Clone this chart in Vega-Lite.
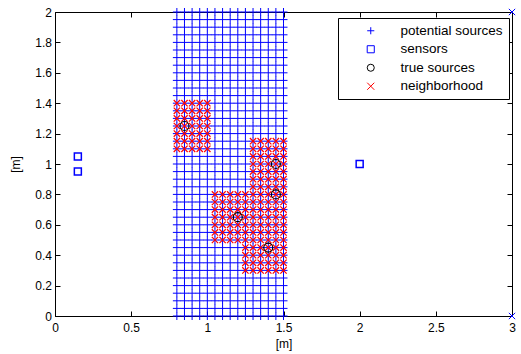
{
"$schema":"https://vega.github.io/schema/vega-lite/v6.json",
"width":457,"height":304,
"autosize":"none",
"padding":{"left":55,"top":12,"right":9,"bottom":38},
"background":"white",
"config":{"view":{"stroke":"black","strokeWidth":1},"font":"Liberation Sans",
"axis":{"labelFont":"Liberation Sans","titleFont":"Liberation Sans","labelFontSize":12,"titleFontSize":12,"titleFontWeight":"normal","labelColor":"black","titleColor":"black","tickColor":"black","domainColor":"black","grid":false},
"legend":{"orient":"none","legendX":283,"legendY":6,"strokeColor":"black","fillColor":"white","padding":6,"labelFont":"Liberation Sans","labelFontSize":13.5,"labelColor":"black","symbolSize":50,"symbolStrokeWidth":1,"rowPadding":3.5,"labelOffset":23,"symbolOffset":20,"titlePadding":0}},
"datasets":{
"pot":[
{"x":0.8,"y":0},{"x":0.8,"y":0.05},{"x":0.8,"y":0.1},{"x":0.8,"y":0.15},{"x":0.8,"y":0.2},{"x":0.8,"y":0.25},{"x":0.8,"y":0.3},{"x":0.8,"y":0.35},{"x":0.8,"y":0.4},{"x":0.8,"y":0.45},{"x":0.8,"y":0.5},{"x":0.8,"y":0.55},{"x":0.8,"y":0.6},{"x":0.8,"y":0.65},{"x":0.8,"y":0.7},{"x":0.8,"y":0.75},{"x":0.8,"y":0.8},{"x":0.8,"y":0.85},{"x":0.8,"y":0.9},{"x":0.8,"y":0.95},{"x":0.8,"y":1},{"x":0.8,"y":1.05},{"x":0.8,"y":1.1},{"x":0.8,"y":1.15},{"x":0.8,"y":1.2},{"x":0.8,"y":1.25},{"x":0.8,"y":1.3},{"x":0.8,"y":1.35},{"x":0.8,"y":1.4},{"x":0.8,"y":1.45},{"x":0.8,"y":1.5},{"x":0.8,"y":1.55},{"x":0.8,"y":1.6},{"x":0.8,"y":1.65},{"x":0.8,"y":1.7},{"x":0.8,"y":1.75},{"x":0.8,"y":1.8},{"x":0.8,"y":1.85},{"x":0.8,"y":1.9},{"x":0.8,"y":1.95},{"x":0.8,"y":2},
{"x":0.85,"y":0},{"x":0.85,"y":0.05},{"x":0.85,"y":0.1},{"x":0.85,"y":0.15},{"x":0.85,"y":0.2},{"x":0.85,"y":0.25},{"x":0.85,"y":0.3},{"x":0.85,"y":0.35},{"x":0.85,"y":0.4},{"x":0.85,"y":0.45},{"x":0.85,"y":0.5},{"x":0.85,"y":0.55},{"x":0.85,"y":0.6},{"x":0.85,"y":0.65},{"x":0.85,"y":0.7},{"x":0.85,"y":0.75},{"x":0.85,"y":0.8},{"x":0.85,"y":0.85},{"x":0.85,"y":0.9},{"x":0.85,"y":0.95},{"x":0.85,"y":1},{"x":0.85,"y":1.05},{"x":0.85,"y":1.1},{"x":0.85,"y":1.15},{"x":0.85,"y":1.2},{"x":0.85,"y":1.25},{"x":0.85,"y":1.3},{"x":0.85,"y":1.35},{"x":0.85,"y":1.4},{"x":0.85,"y":1.45},{"x":0.85,"y":1.5},{"x":0.85,"y":1.55},{"x":0.85,"y":1.6},{"x":0.85,"y":1.65},{"x":0.85,"y":1.7},{"x":0.85,"y":1.75},{"x":0.85,"y":1.8},{"x":0.85,"y":1.85},{"x":0.85,"y":1.9},{"x":0.85,"y":1.95},{"x":0.85,"y":2},
{"x":0.9,"y":0},{"x":0.9,"y":0.05},{"x":0.9,"y":0.1},{"x":0.9,"y":0.15},{"x":0.9,"y":0.2},{"x":0.9,"y":0.25},{"x":0.9,"y":0.3},{"x":0.9,"y":0.35},{"x":0.9,"y":0.4},{"x":0.9,"y":0.45},{"x":0.9,"y":0.5},{"x":0.9,"y":0.55},{"x":0.9,"y":0.6},{"x":0.9,"y":0.65},{"x":0.9,"y":0.7},{"x":0.9,"y":0.75},{"x":0.9,"y":0.8},{"x":0.9,"y":0.85},{"x":0.9,"y":0.9},{"x":0.9,"y":0.95},{"x":0.9,"y":1},{"x":0.9,"y":1.05},{"x":0.9,"y":1.1},{"x":0.9,"y":1.15},{"x":0.9,"y":1.2},{"x":0.9,"y":1.25},{"x":0.9,"y":1.3},{"x":0.9,"y":1.35},{"x":0.9,"y":1.4},{"x":0.9,"y":1.45},{"x":0.9,"y":1.5},{"x":0.9,"y":1.55},{"x":0.9,"y":1.6},{"x":0.9,"y":1.65},{"x":0.9,"y":1.7},{"x":0.9,"y":1.75},{"x":0.9,"y":1.8},{"x":0.9,"y":1.85},{"x":0.9,"y":1.9},{"x":0.9,"y":1.95},{"x":0.9,"y":2},
{"x":0.95,"y":0},{"x":0.95,"y":0.05},{"x":0.95,"y":0.1},{"x":0.95,"y":0.15},{"x":0.95,"y":0.2},{"x":0.95,"y":0.25},{"x":0.95,"y":0.3},{"x":0.95,"y":0.35},{"x":0.95,"y":0.4},{"x":0.95,"y":0.45},{"x":0.95,"y":0.5},{"x":0.95,"y":0.55},{"x":0.95,"y":0.6},{"x":0.95,"y":0.65},{"x":0.95,"y":0.7},{"x":0.95,"y":0.75},{"x":0.95,"y":0.8},{"x":0.95,"y":0.85},{"x":0.95,"y":0.9},{"x":0.95,"y":0.95},{"x":0.95,"y":1},{"x":0.95,"y":1.05},{"x":0.95,"y":1.1},{"x":0.95,"y":1.15},{"x":0.95,"y":1.2},{"x":0.95,"y":1.25},{"x":0.95,"y":1.3},{"x":0.95,"y":1.35},{"x":0.95,"y":1.4},{"x":0.95,"y":1.45},{"x":0.95,"y":1.5},{"x":0.95,"y":1.55},{"x":0.95,"y":1.6},{"x":0.95,"y":1.65},{"x":0.95,"y":1.7},{"x":0.95,"y":1.75},{"x":0.95,"y":1.8},{"x":0.95,"y":1.85},{"x":0.95,"y":1.9},{"x":0.95,"y":1.95},{"x":0.95,"y":2},
{"x":1,"y":0},{"x":1,"y":0.05},{"x":1,"y":0.1},{"x":1,"y":0.15},{"x":1,"y":0.2},{"x":1,"y":0.25},{"x":1,"y":0.3},{"x":1,"y":0.35},{"x":1,"y":0.4},{"x":1,"y":0.45},{"x":1,"y":0.5},{"x":1,"y":0.55},{"x":1,"y":0.6},{"x":1,"y":0.65},{"x":1,"y":0.7},{"x":1,"y":0.75},{"x":1,"y":0.8},{"x":1,"y":0.85},{"x":1,"y":0.9},{"x":1,"y":0.95},{"x":1,"y":1},{"x":1,"y":1.05},{"x":1,"y":1.1},{"x":1,"y":1.15},{"x":1,"y":1.2},{"x":1,"y":1.25},{"x":1,"y":1.3},{"x":1,"y":1.35},{"x":1,"y":1.4},{"x":1,"y":1.45},{"x":1,"y":1.5},{"x":1,"y":1.55},{"x":1,"y":1.6},{"x":1,"y":1.65},{"x":1,"y":1.7},{"x":1,"y":1.75},{"x":1,"y":1.8},{"x":1,"y":1.85},{"x":1,"y":1.9},{"x":1,"y":1.95},{"x":1,"y":2},
{"x":1.05,"y":0},{"x":1.05,"y":0.05},{"x":1.05,"y":0.1},{"x":1.05,"y":0.15},{"x":1.05,"y":0.2},{"x":1.05,"y":0.25},{"x":1.05,"y":0.3},{"x":1.05,"y":0.35},{"x":1.05,"y":0.4},{"x":1.05,"y":0.45},{"x":1.05,"y":0.5},{"x":1.05,"y":0.55},{"x":1.05,"y":0.6},{"x":1.05,"y":0.65},{"x":1.05,"y":0.7},{"x":1.05,"y":0.75},{"x":1.05,"y":0.8},{"x":1.05,"y":0.85},{"x":1.05,"y":0.9},{"x":1.05,"y":0.95},{"x":1.05,"y":1},{"x":1.05,"y":1.05},{"x":1.05,"y":1.1},{"x":1.05,"y":1.15},{"x":1.05,"y":1.2},{"x":1.05,"y":1.25},{"x":1.05,"y":1.3},{"x":1.05,"y":1.35},{"x":1.05,"y":1.4},{"x":1.05,"y":1.45},{"x":1.05,"y":1.5},{"x":1.05,"y":1.55},{"x":1.05,"y":1.6},{"x":1.05,"y":1.65},{"x":1.05,"y":1.7},{"x":1.05,"y":1.75},{"x":1.05,"y":1.8},{"x":1.05,"y":1.85},{"x":1.05,"y":1.9},{"x":1.05,"y":1.95},{"x":1.05,"y":2},
{"x":1.1,"y":0},{"x":1.1,"y":0.05},{"x":1.1,"y":0.1},{"x":1.1,"y":0.15},{"x":1.1,"y":0.2},{"x":1.1,"y":0.25},{"x":1.1,"y":0.3},{"x":1.1,"y":0.35},{"x":1.1,"y":0.4},{"x":1.1,"y":0.45},{"x":1.1,"y":0.5},{"x":1.1,"y":0.55},{"x":1.1,"y":0.6},{"x":1.1,"y":0.65},{"x":1.1,"y":0.7},{"x":1.1,"y":0.75},{"x":1.1,"y":0.8},{"x":1.1,"y":0.85},{"x":1.1,"y":0.9},{"x":1.1,"y":0.95},{"x":1.1,"y":1},{"x":1.1,"y":1.05},{"x":1.1,"y":1.1},{"x":1.1,"y":1.15},{"x":1.1,"y":1.2},{"x":1.1,"y":1.25},{"x":1.1,"y":1.3},{"x":1.1,"y":1.35},{"x":1.1,"y":1.4},{"x":1.1,"y":1.45},{"x":1.1,"y":1.5},{"x":1.1,"y":1.55},{"x":1.1,"y":1.6},{"x":1.1,"y":1.65},{"x":1.1,"y":1.7},{"x":1.1,"y":1.75},{"x":1.1,"y":1.8},{"x":1.1,"y":1.85},{"x":1.1,"y":1.9},{"x":1.1,"y":1.95},{"x":1.1,"y":2},
{"x":1.15,"y":0},{"x":1.15,"y":0.05},{"x":1.15,"y":0.1},{"x":1.15,"y":0.15},{"x":1.15,"y":0.2},{"x":1.15,"y":0.25},{"x":1.15,"y":0.3},{"x":1.15,"y":0.35},{"x":1.15,"y":0.4},{"x":1.15,"y":0.45},{"x":1.15,"y":0.5},{"x":1.15,"y":0.55},{"x":1.15,"y":0.6},{"x":1.15,"y":0.65},{"x":1.15,"y":0.7},{"x":1.15,"y":0.75},{"x":1.15,"y":0.8},{"x":1.15,"y":0.85},{"x":1.15,"y":0.9},{"x":1.15,"y":0.95},{"x":1.15,"y":1},{"x":1.15,"y":1.05},{"x":1.15,"y":1.1},{"x":1.15,"y":1.15},{"x":1.15,"y":1.2},{"x":1.15,"y":1.25},{"x":1.15,"y":1.3},{"x":1.15,"y":1.35},{"x":1.15,"y":1.4},{"x":1.15,"y":1.45},{"x":1.15,"y":1.5},{"x":1.15,"y":1.55},{"x":1.15,"y":1.6},{"x":1.15,"y":1.65},{"x":1.15,"y":1.7},{"x":1.15,"y":1.75},{"x":1.15,"y":1.8},{"x":1.15,"y":1.85},{"x":1.15,"y":1.9},{"x":1.15,"y":1.95},{"x":1.15,"y":2},
{"x":1.2,"y":0},{"x":1.2,"y":0.05},{"x":1.2,"y":0.1},{"x":1.2,"y":0.15},{"x":1.2,"y":0.2},{"x":1.2,"y":0.25},{"x":1.2,"y":0.3},{"x":1.2,"y":0.35},{"x":1.2,"y":0.4},{"x":1.2,"y":0.45},{"x":1.2,"y":0.5},{"x":1.2,"y":0.55},{"x":1.2,"y":0.6},{"x":1.2,"y":0.65},{"x":1.2,"y":0.7},{"x":1.2,"y":0.75},{"x":1.2,"y":0.8},{"x":1.2,"y":0.85},{"x":1.2,"y":0.9},{"x":1.2,"y":0.95},{"x":1.2,"y":1},{"x":1.2,"y":1.05},{"x":1.2,"y":1.1},{"x":1.2,"y":1.15},{"x":1.2,"y":1.2},{"x":1.2,"y":1.25},{"x":1.2,"y":1.3},{"x":1.2,"y":1.35},{"x":1.2,"y":1.4},{"x":1.2,"y":1.45},{"x":1.2,"y":1.5},{"x":1.2,"y":1.55},{"x":1.2,"y":1.6},{"x":1.2,"y":1.65},{"x":1.2,"y":1.7},{"x":1.2,"y":1.75},{"x":1.2,"y":1.8},{"x":1.2,"y":1.85},{"x":1.2,"y":1.9},{"x":1.2,"y":1.95},{"x":1.2,"y":2},
{"x":1.25,"y":0},{"x":1.25,"y":0.05},{"x":1.25,"y":0.1},{"x":1.25,"y":0.15},{"x":1.25,"y":0.2},{"x":1.25,"y":0.25},{"x":1.25,"y":0.3},{"x":1.25,"y":0.35},{"x":1.25,"y":0.4},{"x":1.25,"y":0.45},{"x":1.25,"y":0.5},{"x":1.25,"y":0.55},{"x":1.25,"y":0.6},{"x":1.25,"y":0.65},{"x":1.25,"y":0.7},{"x":1.25,"y":0.75},{"x":1.25,"y":0.8},{"x":1.25,"y":0.85},{"x":1.25,"y":0.9},{"x":1.25,"y":0.95},{"x":1.25,"y":1},{"x":1.25,"y":1.05},{"x":1.25,"y":1.1},{"x":1.25,"y":1.15},{"x":1.25,"y":1.2},{"x":1.25,"y":1.25},{"x":1.25,"y":1.3},{"x":1.25,"y":1.35},{"x":1.25,"y":1.4},{"x":1.25,"y":1.45},{"x":1.25,"y":1.5},{"x":1.25,"y":1.55},{"x":1.25,"y":1.6},{"x":1.25,"y":1.65},{"x":1.25,"y":1.7},{"x":1.25,"y":1.75},{"x":1.25,"y":1.8},{"x":1.25,"y":1.85},{"x":1.25,"y":1.9},{"x":1.25,"y":1.95},{"x":1.25,"y":2},
{"x":1.3,"y":0},{"x":1.3,"y":0.05},{"x":1.3,"y":0.1},{"x":1.3,"y":0.15},{"x":1.3,"y":0.2},{"x":1.3,"y":0.25},{"x":1.3,"y":0.3},{"x":1.3,"y":0.35},{"x":1.3,"y":0.4},{"x":1.3,"y":0.45},{"x":1.3,"y":0.5},{"x":1.3,"y":0.55},{"x":1.3,"y":0.6},{"x":1.3,"y":0.65},{"x":1.3,"y":0.7},{"x":1.3,"y":0.75},{"x":1.3,"y":0.8},{"x":1.3,"y":0.85},{"x":1.3,"y":0.9},{"x":1.3,"y":0.95},{"x":1.3,"y":1},{"x":1.3,"y":1.05},{"x":1.3,"y":1.1},{"x":1.3,"y":1.15},{"x":1.3,"y":1.2},{"x":1.3,"y":1.25},{"x":1.3,"y":1.3},{"x":1.3,"y":1.35},{"x":1.3,"y":1.4},{"x":1.3,"y":1.45},{"x":1.3,"y":1.5},{"x":1.3,"y":1.55},{"x":1.3,"y":1.6},{"x":1.3,"y":1.65},{"x":1.3,"y":1.7},{"x":1.3,"y":1.75},{"x":1.3,"y":1.8},{"x":1.3,"y":1.85},{"x":1.3,"y":1.9},{"x":1.3,"y":1.95},{"x":1.3,"y":2},
{"x":1.35,"y":0},{"x":1.35,"y":0.05},{"x":1.35,"y":0.1},{"x":1.35,"y":0.15},{"x":1.35,"y":0.2},{"x":1.35,"y":0.25},{"x":1.35,"y":0.3},{"x":1.35,"y":0.35},{"x":1.35,"y":0.4},{"x":1.35,"y":0.45},{"x":1.35,"y":0.5},{"x":1.35,"y":0.55},{"x":1.35,"y":0.6},{"x":1.35,"y":0.65},{"x":1.35,"y":0.7},{"x":1.35,"y":0.75},{"x":1.35,"y":0.8},{"x":1.35,"y":0.85},{"x":1.35,"y":0.9},{"x":1.35,"y":0.95},{"x":1.35,"y":1},{"x":1.35,"y":1.05},{"x":1.35,"y":1.1},{"x":1.35,"y":1.15},{"x":1.35,"y":1.2},{"x":1.35,"y":1.25},{"x":1.35,"y":1.3},{"x":1.35,"y":1.35},{"x":1.35,"y":1.4},{"x":1.35,"y":1.45},{"x":1.35,"y":1.5},{"x":1.35,"y":1.55},{"x":1.35,"y":1.6},{"x":1.35,"y":1.65},{"x":1.35,"y":1.7},{"x":1.35,"y":1.75},{"x":1.35,"y":1.8},{"x":1.35,"y":1.85},{"x":1.35,"y":1.9},{"x":1.35,"y":1.95},{"x":1.35,"y":2},
{"x":1.4,"y":0},{"x":1.4,"y":0.05},{"x":1.4,"y":0.1},{"x":1.4,"y":0.15},{"x":1.4,"y":0.2},{"x":1.4,"y":0.25},{"x":1.4,"y":0.3},{"x":1.4,"y":0.35},{"x":1.4,"y":0.4},{"x":1.4,"y":0.45},{"x":1.4,"y":0.5},{"x":1.4,"y":0.55},{"x":1.4,"y":0.6},{"x":1.4,"y":0.65},{"x":1.4,"y":0.7},{"x":1.4,"y":0.75},{"x":1.4,"y":0.8},{"x":1.4,"y":0.85},{"x":1.4,"y":0.9},{"x":1.4,"y":0.95},{"x":1.4,"y":1},{"x":1.4,"y":1.05},{"x":1.4,"y":1.1},{"x":1.4,"y":1.15},{"x":1.4,"y":1.2},{"x":1.4,"y":1.25},{"x":1.4,"y":1.3},{"x":1.4,"y":1.35},{"x":1.4,"y":1.4},{"x":1.4,"y":1.45},{"x":1.4,"y":1.5},{"x":1.4,"y":1.55},{"x":1.4,"y":1.6},{"x":1.4,"y":1.65},{"x":1.4,"y":1.7},{"x":1.4,"y":1.75},{"x":1.4,"y":1.8},{"x":1.4,"y":1.85},{"x":1.4,"y":1.9},{"x":1.4,"y":1.95},{"x":1.4,"y":2},
{"x":1.45,"y":0},{"x":1.45,"y":0.05},{"x":1.45,"y":0.1},{"x":1.45,"y":0.15},{"x":1.45,"y":0.2},{"x":1.45,"y":0.25},{"x":1.45,"y":0.3},{"x":1.45,"y":0.35},{"x":1.45,"y":0.4},{"x":1.45,"y":0.45},{"x":1.45,"y":0.5},{"x":1.45,"y":0.55},{"x":1.45,"y":0.6},{"x":1.45,"y":0.65},{"x":1.45,"y":0.7},{"x":1.45,"y":0.75},{"x":1.45,"y":0.8},{"x":1.45,"y":0.85},{"x":1.45,"y":0.9},{"x":1.45,"y":0.95},{"x":1.45,"y":1},{"x":1.45,"y":1.05},{"x":1.45,"y":1.1},{"x":1.45,"y":1.15},{"x":1.45,"y":1.2},{"x":1.45,"y":1.25},{"x":1.45,"y":1.3},{"x":1.45,"y":1.35},{"x":1.45,"y":1.4},{"x":1.45,"y":1.45},{"x":1.45,"y":1.5},{"x":1.45,"y":1.55},{"x":1.45,"y":1.6},{"x":1.45,"y":1.65},{"x":1.45,"y":1.7},{"x":1.45,"y":1.75},{"x":1.45,"y":1.8},{"x":1.45,"y":1.85},{"x":1.45,"y":1.9},{"x":1.45,"y":1.95},{"x":1.45,"y":2},
{"x":1.5,"y":0},{"x":1.5,"y":0.05},{"x":1.5,"y":0.1},{"x":1.5,"y":0.15},{"x":1.5,"y":0.2},{"x":1.5,"y":0.25},{"x":1.5,"y":0.3},{"x":1.5,"y":0.35},{"x":1.5,"y":0.4},{"x":1.5,"y":0.45},{"x":1.5,"y":0.5},{"x":1.5,"y":0.55},{"x":1.5,"y":0.6},{"x":1.5,"y":0.65},{"x":1.5,"y":0.7},{"x":1.5,"y":0.75},{"x":1.5,"y":0.8},{"x":1.5,"y":0.85},{"x":1.5,"y":0.9},{"x":1.5,"y":0.95},{"x":1.5,"y":1},{"x":1.5,"y":1.05},{"x":1.5,"y":1.1},{"x":1.5,"y":1.15},{"x":1.5,"y":1.2},{"x":1.5,"y":1.25},{"x":1.5,"y":1.3},{"x":1.5,"y":1.35},{"x":1.5,"y":1.4},{"x":1.5,"y":1.45},{"x":1.5,"y":1.5},{"x":1.5,"y":1.55},{"x":1.5,"y":1.6},{"x":1.5,"y":1.65},{"x":1.5,"y":1.7},{"x":1.5,"y":1.75},{"x":1.5,"y":1.8},{"x":1.5,"y":1.85},{"x":1.5,"y":1.9},{"x":1.5,"y":1.95},{"x":1.5,"y":2}
],
"sensors":[{"x":0.15,"y":1.05},{"x":0.15,"y":0.95},{"x":2,"y":1}],
"truth":[{"x":0.85,"y":1.25},{"x":1.2,"y":0.65},{"x":1.45,"y":1},{"x":1.45,"y":0.8},{"x":1.4,"y":0.45}],
"neigh":[
{"x":0.8,"y":1.1},{"x":0.8,"y":1.15},{"x":0.8,"y":1.2},{"x":0.8,"y":1.25},{"x":0.8,"y":1.3},{"x":0.8,"y":1.35},{"x":0.8,"y":1.4},
{"x":0.85,"y":1.1},{"x":0.85,"y":1.15},{"x":0.85,"y":1.2},{"x":0.85,"y":1.25},{"x":0.85,"y":1.3},{"x":0.85,"y":1.35},{"x":0.85,"y":1.4},
{"x":0.9,"y":1.1},{"x":0.9,"y":1.15},{"x":0.9,"y":1.2},{"x":0.9,"y":1.25},{"x":0.9,"y":1.3},{"x":0.9,"y":1.35},{"x":0.9,"y":1.4},
{"x":0.95,"y":1.1},{"x":0.95,"y":1.15},{"x":0.95,"y":1.2},{"x":0.95,"y":1.25},{"x":0.95,"y":1.3},{"x":0.95,"y":1.35},{"x":0.95,"y":1.4},
{"x":1,"y":1.1},{"x":1,"y":1.15},{"x":1,"y":1.2},{"x":1,"y":1.25},{"x":1,"y":1.3},{"x":1,"y":1.35},{"x":1,"y":1.4},
{"x":1.25,"y":0.3},{"x":1.3,"y":0.3},{"x":1.35,"y":0.3},{"x":1.4,"y":0.3},{"x":1.45,"y":0.3},{"x":1.5,"y":0.3},
{"x":1.25,"y":0.35},{"x":1.3,"y":0.35},{"x":1.35,"y":0.35},{"x":1.4,"y":0.35},{"x":1.45,"y":0.35},{"x":1.5,"y":0.35},
{"x":1.25,"y":0.4},{"x":1.3,"y":0.4},{"x":1.35,"y":0.4},{"x":1.4,"y":0.4},{"x":1.45,"y":0.4},{"x":1.5,"y":0.4},
{"x":1.25,"y":0.45},{"x":1.3,"y":0.45},{"x":1.35,"y":0.45},{"x":1.4,"y":0.45},{"x":1.45,"y":0.45},{"x":1.5,"y":0.45},
{"x":1.05,"y":0.5},{"x":1.1,"y":0.5},{"x":1.15,"y":0.5},{"x":1.2,"y":0.5},{"x":1.25,"y":0.5},{"x":1.3,"y":0.5},{"x":1.35,"y":0.5},{"x":1.4,"y":0.5},{"x":1.45,"y":0.5},{"x":1.5,"y":0.5},
{"x":1.05,"y":0.55},{"x":1.1,"y":0.55},{"x":1.15,"y":0.55},{"x":1.2,"y":0.55},{"x":1.25,"y":0.55},{"x":1.3,"y":0.55},{"x":1.35,"y":0.55},{"x":1.4,"y":0.55},{"x":1.45,"y":0.55},{"x":1.5,"y":0.55},
{"x":1.05,"y":0.6},{"x":1.1,"y":0.6},{"x":1.15,"y":0.6},{"x":1.2,"y":0.6},{"x":1.25,"y":0.6},{"x":1.3,"y":0.6},{"x":1.35,"y":0.6},{"x":1.4,"y":0.6},{"x":1.45,"y":0.6},{"x":1.5,"y":0.6},
{"x":1.05,"y":0.65},{"x":1.1,"y":0.65},{"x":1.15,"y":0.65},{"x":1.2,"y":0.65},{"x":1.25,"y":0.65},{"x":1.3,"y":0.65},{"x":1.35,"y":0.65},{"x":1.4,"y":0.65},{"x":1.45,"y":0.65},{"x":1.5,"y":0.65},
{"x":1.05,"y":0.7},{"x":1.1,"y":0.7},{"x":1.15,"y":0.7},{"x":1.2,"y":0.7},{"x":1.25,"y":0.7},{"x":1.3,"y":0.7},{"x":1.35,"y":0.7},{"x":1.4,"y":0.7},{"x":1.45,"y":0.7},{"x":1.5,"y":0.7},
{"x":1.05,"y":0.75},{"x":1.1,"y":0.75},{"x":1.15,"y":0.75},{"x":1.2,"y":0.75},{"x":1.25,"y":0.75},{"x":1.3,"y":0.75},{"x":1.35,"y":0.75},{"x":1.4,"y":0.75},{"x":1.45,"y":0.75},{"x":1.5,"y":0.75},
{"x":1.05,"y":0.8},{"x":1.1,"y":0.8},{"x":1.15,"y":0.8},{"x":1.2,"y":0.8},{"x":1.25,"y":0.8},{"x":1.3,"y":0.8},{"x":1.35,"y":0.8},{"x":1.4,"y":0.8},{"x":1.45,"y":0.8},{"x":1.5,"y":0.8},
{"x":1.3,"y":0.85},{"x":1.35,"y":0.85},{"x":1.4,"y":0.85},{"x":1.45,"y":0.85},{"x":1.5,"y":0.85},
{"x":1.3,"y":0.9},{"x":1.35,"y":0.9},{"x":1.4,"y":0.9},{"x":1.45,"y":0.9},{"x":1.5,"y":0.9},
{"x":1.3,"y":0.95},{"x":1.35,"y":0.95},{"x":1.4,"y":0.95},{"x":1.45,"y":0.95},{"x":1.5,"y":0.95},
{"x":1.3,"y":1},{"x":1.35,"y":1},{"x":1.4,"y":1},{"x":1.45,"y":1},{"x":1.5,"y":1},
{"x":1.3,"y":1.05},{"x":1.35,"y":1.05},{"x":1.4,"y":1.05},{"x":1.45,"y":1.05},{"x":1.5,"y":1.05},
{"x":1.3,"y":1.1},{"x":1.35,"y":1.1},{"x":1.4,"y":1.1},{"x":1.45,"y":1.1},{"x":1.5,"y":1.1},
{"x":1.3,"y":1.15},{"x":1.35,"y":1.15},{"x":1.4,"y":1.15},{"x":1.45,"y":1.15},{"x":1.5,"y":1.15}
],
"corners":[{"x":3,"y":0},{"x":3,"y":2}]
},
"layer":[
{"data":{"name":"pot"},
"mark":{"type":"point","filled":false,"strokeWidth":1,"size":64,"opacity":1},
"encoding":{
"x":{"field":"x","type":"quantitative","scale":{"domain":[0,3],"nice":false,"zero":false},
"axis":{"orient":"bottom","values":[0,0.5,1,1.5,2,2.5,3],"format":"~g","tickSize":-5,"labelPadding":11,"labelFlush":false,"title":"[m]","titlePadding":5}},
"y":{"field":"y","type":"quantitative","scale":{"domain":[0,2],"nice":false,"zero":false},
"axis":{"orient":"left","values":[0,0.2,0.4,0.6,0.8,1,1.2,1.4,1.6,1.8,2],"format":"~g","tickSize":-5,"labelPadding":8.5,"labelFlush":false,"title":"[m]","titlePadding":12}},
"color":{"datum":"potential sources","scale":{"domain":["potential sources","sensors","true sources","neighborhood"],"range":["#0000ff","#0000ff","#000000","#ff0000"]},"legend":{"title":null}},
"shape":{"datum":"potential sources","scale":{"domain":["potential sources","sensors","true sources","neighborhood"],"range":["M-1,0H1M0,-1V1","square","circle","M-1,-1L1,1M-1,1L1,-1"]},"legend":{"title":null}}
}},
{"data":{"name":"sensors"},
"mark":{"type":"point","filled":false,"strokeWidth":1.5,"size":49,"opacity":1},
"encoding":{"x":{"field":"x","type":"quantitative","axis":null},"y":{"field":"y","type":"quantitative","axis":null},
"color":{"datum":"sensors"},"shape":{"datum":"sensors"}}},
{"data":{"name":"neigh"},
"mark":{"type":"point","filled":false,"strokeWidth":1.2,"size":40,"opacity":1},
"encoding":{"x":{"field":"x","type":"quantitative","axis":null},"y":{"field":"y","type":"quantitative","axis":null},
"color":{"datum":"neighborhood"},"shape":{"datum":"neighborhood"}}},
{"data":{"name":"truth"},
"mark":{"type":"point","filled":false,"strokeWidth":1.2,"size":81,"opacity":1},
"encoding":{"x":{"field":"x","type":"quantitative","axis":null},"y":{"field":"y","type":"quantitative","axis":null},
"color":{"datum":"true sources"},"shape":{"datum":"true sources"}}},
{"data":{"name":"corners"},
"mark":{"type":"point","filled":false,"strokeWidth":1,"size":40,"opacity":1,"color":"#0000ff","shape":"M-1,-1L1,1M-1,1L1,-1"},
"encoding":{
"x":{"field":"x","type":"quantitative","axis":{"orient":"top","values":[0,0.5,1,1.5,2,2.5,3],"labels":false,"title":null,"domain":false,"tickSize":-5}},
"y":{"field":"y","type":"quantitative","axis":{"orient":"right","values":[0,0.2,0.4,0.6,0.8,1,1.2,1.4,1.6,1.8,2],"labels":false,"title":null,"domain":false,"tickSize":-5}}}}
],
"resolve":{"axis":{"x":"independent","y":"independent"}}
}
